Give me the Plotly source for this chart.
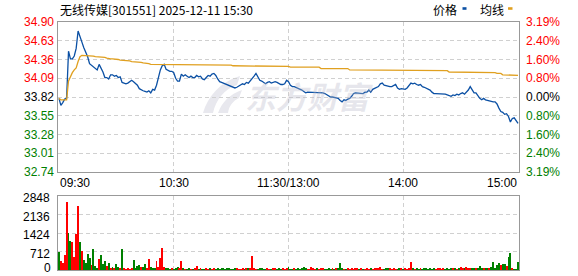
import plotly.graph_objects as go

# ---------------- data ----------------
title_text = "无线传媒[301551] 2025-12-11 15:30"
prev_close = 33.82

price = [
    33.80, 33.70, 33.74, 33.79, 33.80, 34.48, 34.37, 34.37, 34.41, 34.52,
    34.77, 34.70, 34.61, 34.53, 34.46, 34.40, 34.30, 34.28, 34.26, 34.24,
    34.21, 34.29, 34.24, 34.18, 34.10, 34.10, 34.08, 34.14, 34.14, 34.12,
    34.13, 34.10, 34.11, 34.03, 34.02, 34.01, 34.02, 34.04, 34.06, 34.04,
    34.01, 33.99, 33.94, 33.92, 33.91, 33.90, 33.89, 33.91, 33.88, 33.93,
    33.92, 33.99, 34.10, 34.21, 34.27, 34.29, 34.22, 34.20, 34.19, 34.19,
    34.17, 34.09, 34.05, 34.05, 34.15, 34.12, 34.14, 34.12, 34.10, 34.12,
    34.10, 34.10, 34.13, 34.11, 34.12, 34.08, 34.07, 34.10, 34.13, 34.12,
    34.15, 34.16, 34.13, 34.08, 34.04, 34.03, 34.02, 34.00, 33.99, 33.98,
    33.97, 33.96, 33.95, 33.96, 33.98, 34.00, 34.01, 34.00, 34.03, 34.02,
    34.05, 34.08, 34.12, 34.16, 34.10, 34.06, 34.05, 34.03, 34.01, 34.03,
    34.04, 34.02, 34.03, 34.04, 34.03, 34.01, 34.00, 34.00, 34.01, 34.06,
    34.04, 33.99, 33.97, 33.97, 33.96, 33.95, 33.94, 33.92, 33.90, 33.88,
    33.89, 33.89, 33.89, 33.89, 33.89, 33.88, 33.88, 33.88, 33.88, 33.87,
    33.85, 33.83, 33.82, 33.82, 33.81, 33.81, 33.80, 33.77, 33.75, 33.78,
    33.77, 33.79, 33.80, 33.83, 33.87, 33.88, 33.88, 33.87, 33.88, 33.87,
    33.89, 33.89, 33.92, 33.89, 33.93, 33.94, 33.95, 33.97, 34.01, 34.02,
    33.99, 33.98, 33.97, 33.97, 33.97, 33.99, 34.00, 33.95, 33.93, 33.94,
    33.93, 33.93, 33.95, 33.99, 34.02, 34.01, 34.02, 34.00, 33.99, 34.00,
    33.97, 33.96, 33.95, 33.93, 33.92, 33.89, 33.87, 33.87, 33.87, 33.87,
    33.87, 33.87, 33.86, 33.85, 33.84, 33.83, 33.85, 33.84, 33.86, 33.85,
    33.87, 33.88, 33.86, 33.89, 33.92, 33.97, 33.93, 33.88, 33.88, 33.84,
    33.80, 33.78, 33.80, 33.78, 33.77, 33.77, 33.76, 33.75, 33.75, 33.72,
    33.66, 33.61, 33.60, 33.57, 33.58, 33.54, 33.46, 33.51, 33.52, 33.48,
    33.44,
]

avg_price = [
    33.80, 33.78, 33.78, 33.78, 33.78, 34.05, 34.12, 34.17, 34.21, 34.24,
    34.33, 34.40, 34.42, 34.42, 34.42, 34.42, 34.41, 34.41, 34.41, 34.40,
    34.40, 34.39, 34.39, 34.39, 34.39, 34.38, 34.37, 34.37, 34.37, 34.37,
    34.36, 34.36, 34.35, 34.35, 34.35, 34.34, 34.34, 34.34, 34.33, 34.33,
    34.33, 34.32, 34.32, 34.32, 34.31, 34.31, 34.30, 34.30, 34.29, 34.29,
    34.29, 34.29, 34.29, 34.29, 34.29, 34.29, 34.29, 34.29, 34.29, 34.29,
    34.29, 34.29, 34.29, 34.29, 34.28, 34.28, 34.28, 34.28, 34.28, 34.28,
    34.28, 34.28, 34.28, 34.28, 34.28, 34.28, 34.28, 34.28, 34.28, 34.28,
    34.28, 34.28, 34.28, 34.28, 34.28, 34.28, 34.28, 34.28, 34.28, 34.28,
    34.28, 34.27, 34.27, 34.27, 34.27, 34.27, 34.26, 34.26, 34.26, 34.26,
    34.26, 34.26, 34.26, 34.26, 34.26, 34.26, 34.26, 34.26, 34.26, 34.26,
    34.26, 34.26, 34.26, 34.26, 34.26, 34.26, 34.26, 34.26, 34.26, 34.26,
    34.26, 34.25, 34.25, 34.25, 34.25, 34.25, 34.25, 34.25, 34.25, 34.25,
    34.25, 34.25, 34.25, 34.25, 34.25, 34.25, 34.25, 34.23, 34.23, 34.23,
    34.23, 34.23, 34.23, 34.23, 34.23, 34.23, 34.23, 34.23, 34.23, 34.23,
    34.23, 34.23, 34.21, 34.21, 34.21, 34.21, 34.21, 34.21, 34.21, 34.21,
    34.21, 34.21, 34.21, 34.21, 34.21, 34.21, 34.21, 34.21, 34.21, 34.21,
    34.21, 34.21, 34.21, 34.21, 34.21, 34.21, 34.21, 34.21, 34.21, 34.20,
    34.20, 34.20, 34.20, 34.20, 34.20, 34.20, 34.20, 34.20, 34.20, 34.20,
    34.20, 34.20, 34.20, 34.20, 34.20, 34.20, 34.20, 34.20, 34.20, 34.20,
    34.20, 34.20, 34.20, 34.20, 34.18, 34.18, 34.18, 34.18, 34.18, 34.18,
    34.18, 34.18, 34.18, 34.18, 34.18, 34.18, 34.18, 34.18, 34.18, 34.18,
    34.18, 34.18, 34.18, 34.17, 34.17, 34.17, 34.17, 34.17, 34.17, 34.16,
    34.16, 34.16, 34.14, 34.14, 34.14, 34.13, 34.13, 34.13, 34.13, 34.13,
    34.13,
]

volume = [
    709, 361, 284, 580, 2632, 1419, 1135, 1071, 516, 1393,
    2451, 1071, 722, 387, 271, 619, 464, 194, 813, 168,
    60, 426, 580, 232, 361, 155, 271, 39, 103, 77,
    232, 129, 77, 813, 39, 35, 42, 38, 40, 387,
    77, 168, 194, 103, 129, 232, 39, 413, 129, 39,
    39, 335, 129, 464, 851, 116, 77, 45, 38, 42,
    35, 48, 100, 40, 358, 44, 36, 30, 41, 38,
    33, 40, 166, 37, 45, 32, 38, 42, 36, 40,
    35, 44, 38, 41, 34, 90, 47, 36, 39, 42,
    37, 35, 40, 44, 38, 36, 41, 34, 60, 39,
    43, 524, 45, 38, 36, 42, 40, 35, 37, 41,
    38, 36, 42, 39, 35, 40, 37, 43, 38, 40,
    128, 36, 38, 42, 37, 41, 35, 39, 128, 44,
    38, 36, 128, 40, 37, 42, 35, 39, 41, 36,
    38, 43, 37, 40, 36, 42, 39, 281, 41, 37,
    35, 40, 38, 42, 36, 39, 41, 37, 43, 38,
    36, 40, 38, 42, 37, 41, 39, 44, 128, 38,
    36, 40, 90, 42, 37, 41, 38, 35, 40, 39,
    37, 42, 38, 41, 319, 40, 36, 42, 38, 41,
    37, 39, 42, 36, 40, 38, 43, 37, 41, 39,
    36, 40, 38, 42, 37, 41, 39, 44, 38, 42,
    128, 40, 45, 128, 41, 47, 42, 90, 48, 60,
    166, 44, 48, 52, 46, 90, 128, 319, 90, 204,
    281, 204, 243, 243, 166, 511, 664, 40, 20, 20,
    319,
]

# R = up minute (red), G = down minute (green)
volume_dir = (
    "GRRRRGGRRR" "RGRGGGGRGG" "GRGGGRGRGR" "GGRGRRRRRG" "GGGRGGRRGG"
    "GRRRRRGGGR" "GGGRRGRGGR" "GRRGRGGRRG" "RRGGGGGGGG" "GGGRRRRGRG"
    "RRRRGGGGGR" "RGRRGGGRRR" "GGGRGGGGGG" "RRRRRGRRRG" "GGGRGRGGGR"
    "GRRRRRRGRG" "RRRGRRRRRR" "GGGRRRRGGR" "GRRRRGRGGR" "GGGGGGGRRR"
    "RRGGGGRGRG" "RRGRRRGGRG" "GGRGGRGGGG" "GRGGRGGRGG" "G"
)

price_ticks = [32.74, 33.01, 33.28, 33.55, 33.82, 34.09, 34.36, 34.63, 34.90]
pct_labels = ["3.19%", "2.40%", "1.60%", "0.80%", "0.00%", "0.80%", "1.60%", "2.40%", "3.19%"]
vol_ticks = [0, 712, 1424, 2136, 2848]
vol_labels = ["0", "712", "1424", "2136", "2848"]
time_ticks = [0, 60, 120, 180, 240]
time_labels = ["09:30", "10:30", "11:30/13:00", "14:00", "15:00"]
legend_names = ["价格", "均线"]
watermark_text = "东方财富"

# ---------------- styling ----------------
W, H = 578, 276
ML, MR, MT, MB = 58, 59, 22, 6
PW = W - ML - MR
PH = H - MT - MB

def pxx(px):
    return (px - ML) / PW

def pxy(py):
    return (H - MB - py) / PH

TOP_DOMAIN = [pxy(172), 1.0]
BOT_DOMAIN = [0.0, pxy(196)]

C_PRICE = "#0b50a4"
C_AVG = "#e0a020"
C_UP = "#ff0000"
C_DOWN = "#008000"
C_FLAT = "#000000"
NUM_FONT = "Arial, Liberation Sans, sans-serif"
CJK_FONT = "Noto Sans CJK SC, sans-serif"
GRID = "#d0d0d0"
FRAME = "#999999"

idx = list(range(len(price)))

fig = go.Figure()

fig.add_trace(go.Scatter(x=idx, y=price, mode="lines", line=dict(color=C_PRICE, width=1.3),
                         xaxis="x", yaxis="y", hoverinfo="skip", showlegend=False))
fig.add_trace(go.Scatter(x=idx, y=avg_price, mode="lines", line=dict(color=C_AVG, width=1.3),
                         xaxis="x", yaxis="y", hoverinfo="skip", showlegend=False))
fig.add_trace(go.Bar(x=idx, y=volume, width=0.5,
                     marker=dict(color=[C_UP if d == "R" else C_DOWN for d in volume_dir], line=dict(width=0)),
                     xaxis="x2", yaxis="y2", hoverinfo="skip", showlegend=False))

xcommon = dict(range=[-0.5, 240.5], tickvals=time_ticks[1:-1], showticklabels=False, ticks="",
               showgrid=True, gridcolor=GRID, griddash="4px,3px", gridwidth=1, zeroline=False,
               showline=True, linecolor=FRAME, linewidth=1, mirror=True, fixedrange=True)
fig.update_layout(
    width=W, height=H,
    margin=dict(l=ML, r=MR, t=MT, b=MB, pad=0),
    paper_bgcolor="white", plot_bgcolor="white",
    bargap=0,
    xaxis=dict(domain=[0, 1], anchor="y", **xcommon),
    xaxis2=dict(domain=[0, 1], anchor="y2", **xcommon),
    yaxis=dict(domain=TOP_DOMAIN, anchor="x", range=[price_ticks[0], price_ticks[-1]],
               tickvals=price_ticks[1:-1], showticklabels=False, ticks="",
               showgrid=True, gridcolor=GRID, griddash="4px,3px", gridwidth=1, zeroline=False,
               showline=True, linecolor=FRAME, linewidth=1, mirror=True, fixedrange=True),
    yaxis2=dict(domain=BOT_DOMAIN, anchor="x2", range=[vol_ticks[0], vol_ticks[-1]],
                tickvals=vol_ticks[1:-1], showticklabels=False, ticks="",
                showgrid=True, gridcolor=GRID, griddash="4px,3px", gridwidth=1, zeroline=False,
                showline=True, linecolor=FRAME, linewidth=1, mirror=True, fixedrange=True),
)

ann = []
# watermark
ann.append(dict(text="<b><i>" + watermark_text + "</i></b>", xref="paper", yref="paper",
                x=pxx(309), y=pxy(96), xanchor="center", yanchor="middle", showarrow=False,
                font=dict(family=CJK_FONT, size=31, color="rgba(185,185,200,0.35)")))

# price axis labels (left) and percent labels (right)
for tv, pl in zip(price_ticks, pct_labels):
    col = C_UP if tv > prev_close + 1e-9 else (C_DOWN if tv < prev_close - 1e-9 else C_FLAT)
    ann.append(dict(text=f"{tv:.2f}", xref="paper", yref="y", x=pxx(55.5), y=tv,
                    xanchor="right", yanchor="middle", showarrow=False,
                    font=dict(family=NUM_FONT, size=12, color=col)))
    ann.append(dict(text=pl, xref="paper", yref="y", x=pxx(524), y=tv,
                    xanchor="left", yanchor="middle", showarrow=False,
                    font=dict(family=NUM_FONT, size=12, color=col)))

# volume labels
for tv, tl in zip(vol_ticks, vol_labels):
    if tv == vol_ticks[0]:
        ann.append(dict(text=tl, xref="paper", yref="paper", x=pxx(52), y=pxy(276),
                        xanchor="right", yanchor="bottom", showarrow=False, borderpad=0,
                        font=dict(family=NUM_FONT, size=12, color="#000000")))
    else:
        ann.append(dict(text=tl, xref="paper", yref="y2", x=pxx(52), y=tv, yshift=-2,
                        xanchor="right", yanchor="middle", showarrow=False,
                        font=dict(family=NUM_FONT, size=12, color="#000000")))

# time labels
for i, (tv, tl) in enumerate(zip(time_ticks, time_labels)):
    if i == 0:
        xa, xr, xv = "left", "paper", 0
    elif i == len(time_ticks) - 1:
        xa, xr, xv = "right", "paper", 1
    else:
        xa, xr, xv = "center", "x", tv
    ann.append(dict(text=tl, xref=xr, yref="paper", x=xv, y=pxy(182.5),
                    xanchor=xa, yanchor="middle", showarrow=False,
                    font=dict(family=NUM_FONT, size=12, color="#000000")))

# title
ann.append(dict(text=title_text, xref="paper", yref="paper", x=0, y=pxy(9.5),
                xanchor="left", yanchor="middle", showarrow=False,
                font=dict(family=CJK_FONT, size=12, color="#000000")))
# legend
ann.append(dict(text=legend_names[0], xref="paper", yref="paper", x=pxx(431), y=pxy(9.5),
                xanchor="left", yanchor="middle", showarrow=False,
                font=dict(family=CJK_FONT, size=12, color="#000000")))
ann.append(dict(text=legend_names[1], xref="paper", yref="paper", x=pxx(477.5), y=pxy(9.5),
                xanchor="left", yanchor="middle", showarrow=False,
                font=dict(family=CJK_FONT, size=12, color="#000000")))

shapes = [
    dict(type="rect", xref="paper", yref="paper", x0=pxx(462.5), x1=pxx(466.5), y0=pxy(9.8), y1=pxy(7.2),
         fillcolor=C_PRICE, line=dict(width=0)),
    dict(type="rect", xref="paper", yref="paper", x0=pxx(508), x1=pxx(512.5), y0=pxy(9.8), y1=pxy(7.2),
         fillcolor=C_AVG, line=dict(width=0)),
]

def ppath(pts):
    s = ""
    for cmd, coords in pts:
        s += cmd + " " + " ".join(f"{pxx(a):.4f},{pxy(b):.4f}" for a, b in coords) + " "
    return s + "Z"

logo1 = ppath([("M", [(203, 113)]), ("C", [(208, 96), (220, 82), (240, 76)]),
               ("L", [(237, 85)]), ("C", [(224, 89), (216, 100), (213, 113)])])
logo2 = ppath([("M", [(218, 113)]), ("C", [(222, 102), (230, 94), (242, 90)]),
               ("L", [(239, 98)]), ("C", [(233, 101), (229, 106), (228, 113)])])
for p in (logo1, logo2):
    shapes.append(dict(type="path", path=p, xref="paper", yref="paper", layer="below",
                       fillcolor="#e8e8ee", line=dict(width=0)))

fig.update_layout(annotations=ann, shapes=shapes)

fig.write_html("out.html", config={"displayModeBar": False})
